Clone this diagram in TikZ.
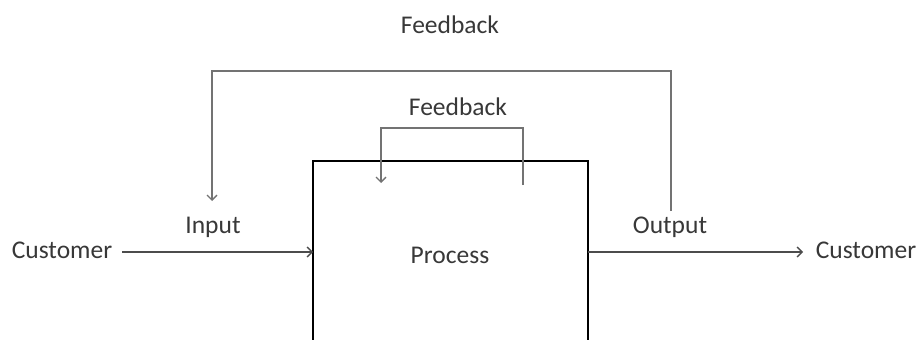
\documentclass[tikz,border=0pt]{standalone}
\usepackage{fontspec}
\setmainfont{Carlito}
\usetikzlibrary{positioning,arrows.meta}
\tikzstyle{label text}=[font=\fontsize{25.5}{30}\selectfont,text=black!78,inner sep=0pt]
\tikzstyle{flow}=[draw,-{Straight Barb[length=5pt,width=10pt]},black!70,line width=1.3pt]
\tikzstyle{loop}=[draw,-{Straight Barb[length=5pt,width=10pt]},black!55,line width=1.3pt]
\tikzstyle{process box}=[draw,black,line width=2.4pt]

\begin{document}
\begin{tikzpicture}[x=1pt,y=-1pt]
  \useasboundingbox (0,0) rectangle (922,340);
    % The process box, open at the bottom
    \coordinate (box bl) at (313,341);
    \coordinate (box tl) at (313,161);
    \coordinate (box tr) at (588,161);
    \coordinate (box br) at (588,341);
    \path[process box] (box bl) -- (box tl) -- (box tr) -- (box br);
    % Then the texts
    \foreach \pos/\name/\text in {{(450,255)/process/Process},
                                  {(62,250)/cust in/Customer},{(866,250)/cust out/Customer},
                                  {(213,227)/input/Input},{(670,227)/output/Output},
                                  {(450,25)/fb outer/Feedback},{(458,107)/fb inner/Feedback}}
        \node[label text] (\name) at \pos {\text};
    % Customer in and out
    \coordinate (in) at (313,252);
    \coordinate (out) at (588,252);
    \coordinate (out end) at (803,252);
    \path[flow] ([xshift=10pt]cust in.east |- in) -- (in);
    \path[flow] (out) -- (out end);
    % Outer feedback loop, from output back to input
    \coordinate (outer tap) at (671,211);
    \coordinate (outer top) at (0,71);
    \coordinate (input drop) at (212,201);
    \path[loop] (outer tap) -- (outer tap |- outer top) -| (input drop);
    % Inner feedback loop on top of the box
    \coordinate (inner tap) at (523,185);
    \coordinate (inner top) at (0,128);
    \coordinate (inner drop) at (381,183);
    \path[loop] (inner tap) -- (inner tap |- inner top) -| (inner drop);
\end{tikzpicture}
\end{document}
